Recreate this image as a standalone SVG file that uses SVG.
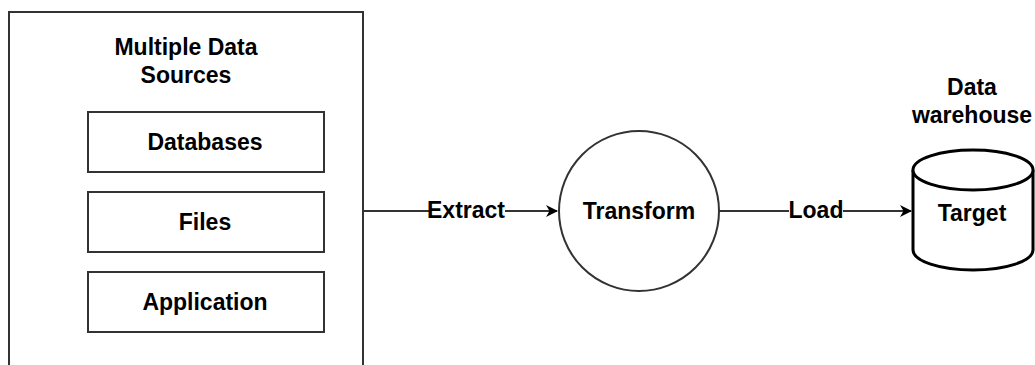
<svg xmlns="http://www.w3.org/2000/svg" width="1035" height="365" viewBox="0 0 1035 365">
<style>
text{font-family:"Liberation Sans",Arial,sans-serif;font-weight:bold;font-size:23px;fill:#000;text-anchor:middle}
.box{fill:#fff;stroke:#333;stroke-width:2}
.cyl{fill:#fff;stroke:#000;stroke-width:3}
.edge{stroke:#333;stroke-width:2;fill:none}
.lbl{fill:#fff}
</style>
<defs>
<marker id="arr" viewBox="0 0 12 12" refX="11" refY="6" markerWidth="12" markerHeight="12" markerUnits="userSpaceOnUse" orient="auto">
<path d="M0,0 L12,6 L0,12 L3.5,6 Z" fill="#000"/>
</marker>
</defs>
<g id="sources">
<rect class="box" x="9" y="12" width="354" height="370"/>
<text x="186" y="55">Multiple Data</text>
<text x="186" y="83">Sources</text>
</g>
<g id="databases">
<rect class="box" x="88" y="112" width="236" height="60"/>
<text x="205" y="150">Databases</text>
</g>
<g id="files">
<rect class="box" x="88" y="192" width="236" height="60"/>
<text x="205" y="230">Files</text>
</g>
<g id="application">
<rect class="box" x="88" y="272" width="236" height="60"/>
<text x="205" y="310">Application</text>
</g>
<g id="transform">
<circle class="box" cx="639" cy="211" r="80"/>
<text x="639" y="219">Transform</text>
</g>
<g id="target">
<path class="cyl" d="M913,170 A60,20 0 0 1 1033,170 L1033,250 A60,20 0 0 1 913,250 Z"/>
<path class="cyl" d="M913,170 A60,20 0 0 0 1033,170" fill="none"/>
<text x="972" y="221">Target</text>
<text x="972" y="95">Data</text>
<text x="972" y="123">warehouse</text>
</g>
<g id="connectors">
<line class="edge" x1="363" y1="211" x2="557" y2="211" marker-end="url(#arr)"/>
<rect class="lbl" x="429" y="198" width="76" height="24"/>
<text x="466" y="218">Extract</text>
<line class="edge" x1="719" y1="211" x2="911" y2="211" marker-end="url(#arr)"/>
<rect class="lbl" x="789" y="198" width="54" height="24"/>
<text x="816" y="218">Load</text>
</g>
</svg>
